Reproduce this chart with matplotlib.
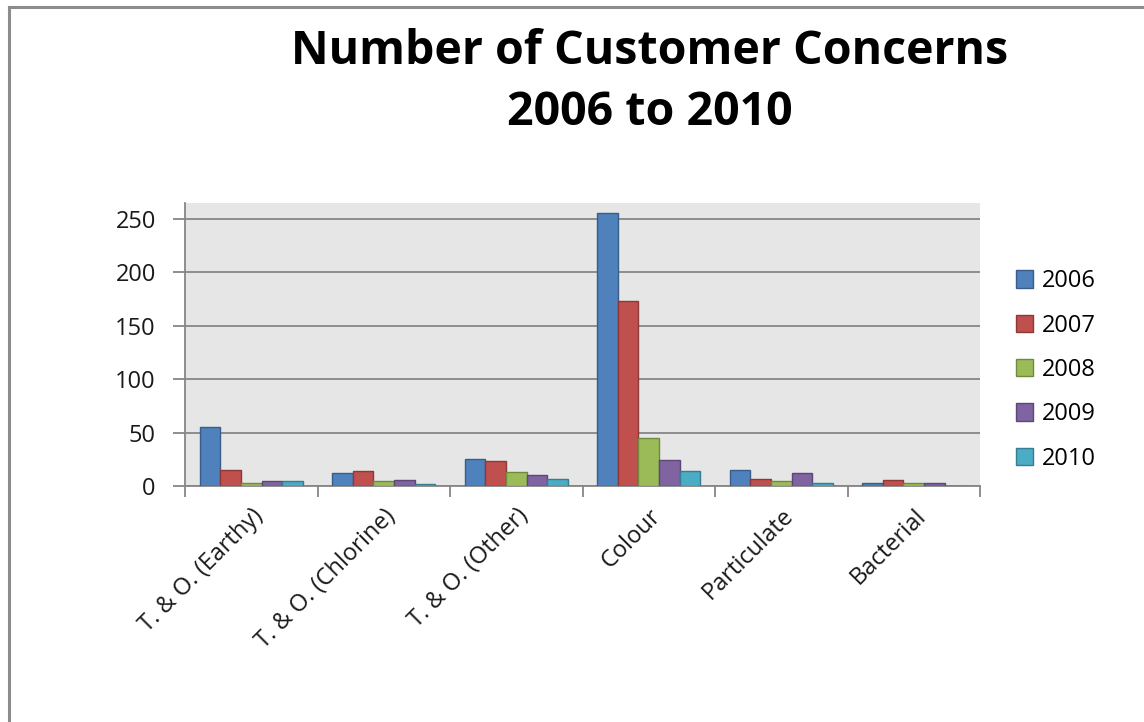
#!/usr/bin/env python3
"""Grouped bar chart of customer concerns by category, 2006-2010."""

import matplotlib
matplotlib.use("Agg")
import matplotlib.pyplot as plt
import numpy as np
from matplotlib.lines import Line2D

categories = [
    "T. & O. (Earthy)",
    "T. & O. (Chlorine)",
    "T. & O. (Other)",
    "Colour",
    "Particulate",
    "Bacterial",
]
years = ["2006", "2007", "2008", "2009", "2010"]

counts_2006 = [55, 12, 25, 256, 15, 3]
counts_2007 = [15, 14, 23, 173, 7, 6]
counts_2008 = [3, 5, 13, 45, 5, 3]
counts_2009 = [5, 6, 10, 24, 12, 3]
counts_2010 = [5, 2, 7, 14, 3, 0]

series = [counts_2006, counts_2007, counts_2008, counts_2009, counts_2010]
face_colors = ["#4F81BD", "#C0504D", "#9BBB59", "#8064A2", "#4BACC6"]
edge_colors = ["#385D8A", "#8C3836", "#71893F", "#5C4776", "#357D91"]

plt.rcParams["font.family"] = ["Open Sans", "DejaVu Sans"]

W, H = 1144, 722
fig = plt.figure(figsize=(W / 100, H / 100), dpi=100)

# outer frame (left and top edges only)
fig.add_artist(Line2D([9 / W, 9 / W], [0, 1 - 7 / H], color="#8c8c8c", lw=2.2))
fig.add_artist(Line2D([9 / W, 1], [1 - 7 / H, 1 - 7 / H], color="#8c8c8c", lw=2.2))

left, right, top, bottom = 185, 980, 203, 486
ax = fig.add_axes([left / W, 1 - bottom / H, (right - left) / W, (bottom - top) / H])
ax.set_facecolor("#e6e6e6")

x = np.arange(len(categories))
bar_w = 0.155
for i, (vals, fc, ec, yr) in enumerate(zip(series, face_colors, edge_colors, years)):
    offs = (i - 2) * bar_w
    ax.bar(x + offs, vals, width=bar_w, color=fc, edgecolor=ec, linewidth=1.0,
           label=yr, zorder=3)

ax.set_xlim(-0.5, len(categories) - 0.5)
ax.set_ylim(0, 265)
ax.set_yticks([0, 50, 100, 150, 200, 250])
ax.yaxis.grid(True, color="#868686", linewidth=1.3, zorder=0)
ax.set_axisbelow(True)

for side in ("top", "right"):
    ax.spines[side].set_visible(False)
for side in ("left", "bottom"):
    ax.spines[side].set_color("#868686")
    ax.spines[side].set_linewidth(1.3)

ax.tick_params(axis="y", length=9, width=1.3, color="#868686", labelsize=17,
               labelcolor="#1a1a1a", pad=12)

# category boundary ticks below the axis, labels at group centers
ax.set_xticks(np.arange(len(categories) + 1) - 0.5)
ax.set_xticklabels([])
ax.tick_params(axis="x", which="major", length=8, width=1.3, color="#868686")
ax.set_xticks(x, minor=True)
ax.set_xticklabels(categories, minor=True, rotation=45, ha="right",
                   rotation_mode="anchor", fontsize=17, color="#1a1a1a")
ax.tick_params(axis="x", which="minor", length=0, pad=13)

leg = ax.legend(loc="center left", bbox_to_anchor=(1.045, 0.41), frameon=False,
                fontsize=17, handlelength=0.75, handleheight=0.75,
                handletextpad=0.35, labelspacing=0.86, borderpad=0,
                borderaxespad=0)

fig.text(650 / W, 1 - 64 / H, "Number of Customer Concerns", ha="center",
         va="baseline", fontsize=33.5, fontweight="bold", color="#000000")
fig.text(650 / W, 1 - 125 / H, "2006 to 2010", ha="center", va="baseline",
         fontsize=33.5, fontweight="bold", color="#000000")

fig.savefig("out.png", dpi=100, facecolor="white")
